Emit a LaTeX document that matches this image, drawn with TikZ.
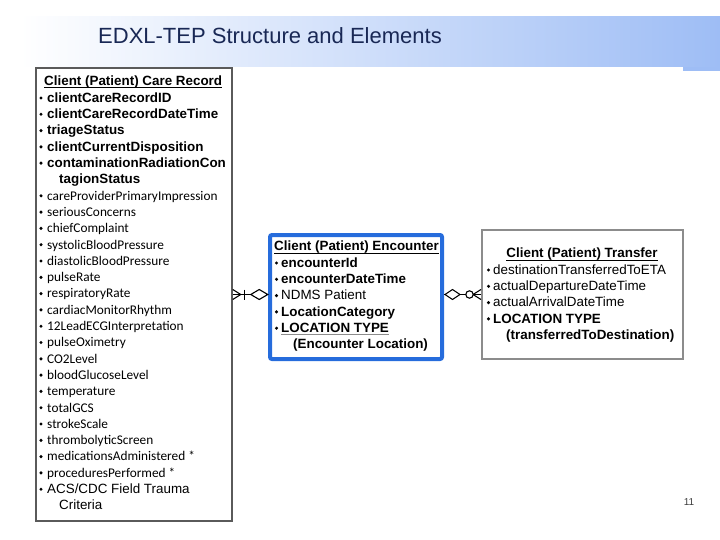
\documentclass[tikz,border=0pt]{standalone}
\usepackage{fontspec}
\newfontfamily\arialf{Liberation Sans}
\newfontfamily\califf{Carlito}
\usetikzlibrary{calc,positioning}
\definecolor{hdrblue}{RGB}{158,189,245}
\definecolor{titlenavy}{RGB}{25,40,85}
\definecolor{recgray}{RGB}{90,90,90}
\definecolor{xfergray}{RGB}{140,140,140}
\definecolor{encblue}{RGB}{38,108,220}
\definecolor{txtgray}{RGB}{60,60,60}
\tikzset{
  lbl/.style={anchor=base west,inner sep=0pt,font=\arialf\bfseries\fontsize{13.4}{16}\selectfont},
  lblr/.style={lbl,font=\arialf\fontsize{13.4}{16}\selectfont},
  lblc/.style={lbl,font=\califf\fontsize{13.3}{16}\selectfont},
  ulbar/.style={line width=1pt},
}
\begin{document}
\begin{tikzpicture}[x=1pt,y=-1pt]
  \useasboundingbox (0,0) rectangle (720,540);
  %% header band
  \shade[left color=white,right color=hdrblue] (20,17) rectangle (720,67);
  \fill[hdrblue] (683,67) rectangle (720,71);
  \node[anchor=base west,inner sep=0pt,text=titlenavy,
        font=\arialf\fontsize{22}{26}\selectfont]
        (title) at (98,44) {EDXL-TEP Structure and Elements};
  %% entity boxes
  \node[draw=recgray,line width=1.5,minimum width=196,minimum height=453,inner sep=0]
        (record) at (134,294.5) {};
  \node[draw=encblue,line width=4,rounded corners=2,minimum width=172,minimum height=124,inner sep=0]
        (enc) at (356,297) {};
  \node[draw=xfergray,line width=1.5,minimum width=201,minimum height=129,inner sep=0]
        (xfer) at (582.5,294.5) {};
  %% Care Record
  \node[lbl] (rec-0) at (44,86) {Client (Patient) Care Record};
  \draw[ulbar] ([yshift=-2pt]rec-0.base west) -- ([yshift=-2pt]rec-0.base east);
  \foreach \txt [count=\i] in {clientCareRecordID,clientCareRecordDateTime,triageStatus,
      clientCurrentDisposition,contaminationRadiationCon}{
    \fill (41,{86+16.3*\i-4.3}) circle (1.7);
    \node[lbl] (rec-\i) at (47,{86+16.3*\i}) {\txt};
  }
  \node[lbl] (rec-6) at (59,{86+16.3*6}) {tagionStatus};
  \foreach \txt [count=\i from 7] in {careProviderPrimaryImpression,seriousConcerns,
      chiefComplaint,systolicBloodPressure,diastolicBloodPressure,pulseRate,respiratoryRate,
      cardiacMonitorRhythm,12LeadECGInterpretation,pulseOximetry,CO2Level,bloodGlucoseLevel,
      temperature,totalGCS,strokeScale,thrombolyticScreen,medicationsAdministered *,
      proceduresPerformed *}{
    \fill (41,{86+16.3*\i-4.3}) circle (1.7);
    \node[lblc] (rec-\i) at (47,{86+16.3*\i}) {\txt};
  }
  \fill (41,{86+16.3*25-4.3}) circle (1.7);
  \node[lblr] (rec-25) at (47,{86+16.3*25}) {ACS/CDC Field Trauma};
  \node[lblr] (rec-26) at (59,{86+16.3*26}) {Criteria};
  %% Encounter
  \node[lbl] (enc-0) at (274,251) {Client (Patient) Encounter};
  \draw[ulbar] ([yshift=-2pt]enc-0.base west) -- ([yshift=-2pt]enc-0.base east);
  \foreach \txt/\sty [count=\i] in {encounterId/lbl,encounterDateTime/lbl,
      NDMS Patient/lblr,LocationCategory/lbl,LOCATION TYPE/lbl}{
    \fill (276.5,{251+16.3*\i-4.3}) circle (1.7);
    \node[\sty] (enc-\i) at (281,{251+16.3*\i}) {\txt};
  }
  \draw[ulbar,draw=xfergray] ([yshift=-2pt]enc-5.base west) -- ([yshift=-2pt]enc-5.base east);
  \node[lbl] (enc-6) at (293,{251+16.3*6}) {(Encounter Location)};
  %% Transfer
  \node[lbl,anchor=base] (xfer-0) at (582,258) {Client (Patient) Transfer};
  \draw[ulbar] ([yshift=-2pt]xfer-0.base west) -- ([yshift=-2pt]xfer-0.base east);
  \foreach \txt/\sty [count=\i] in {destinationTransferredToETA/lblr,
      actualDepartureDateTime/lblr,actualArrivalDateTime/lblr,LOCATION TYPE/lbl}{
    \fill (488.5,{258+16.3*\i-4.3}) circle (1.7);
    \node[\sty] (xfer-\i) at (493,{258+16.3*\i}) {\txt};
  }
  \node[lbl] (xfer-5) at (506,{258+16.3*5}) {(transferredToDestination)};
  %% relationships
  \coordinate (a1) at (record.east |- xfer.west);
  \coordinate (a2) at (enc.west |- xfer.west);
  \coordinate (b1) at (enc.east |- xfer.west);
  \draw[line width=1.1] (a1) -- (a2);
  \draw[line width=1.1] (b1) -- (xfer.west);
  \begin{scope}[shift={(a1)},line width=1.1]
    \draw (0,-5) -- (8,0) -- (0,5);
    \draw (12,-5) -- (12,5);
    \draw[fill=white] (18,0) -- (26.5,-5) -- (35,0) -- (26.5,5) -- cycle;
  \end{scope}
  \begin{scope}[shift={(b1)},line width=1.1]
    \draw[fill=white] (1,0) -- (8.5,-5) -- (16,0) -- (8.5,5) -- cycle;
    \draw[fill=white] (25.5,0) circle (3.7);
    \draw (29,0) -- (37,-5);
    \draw (29,0) -- (37,5);
  \end{scope}
  %% page number
  \node[anchor=base,inner sep=0pt,text=txtgray,font=\arialf\fontsize{10}{12}\selectfont]
        (pgnum) at (689,505) {11};
\end{tikzpicture}
\end{document}
